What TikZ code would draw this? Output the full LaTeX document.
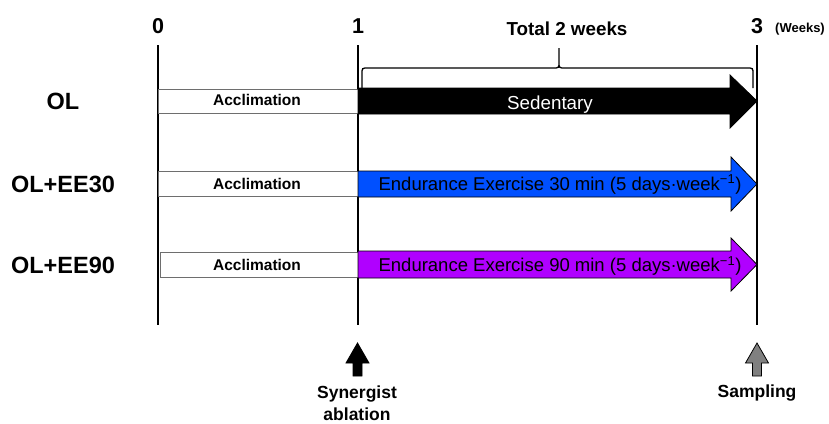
\documentclass[tikz,border=0pt]{standalone}
\usepackage{fontspec}
\setmainfont{Liberation Sans}
\definecolor{eeblue}{RGB}{0,80,255}
\definecolor{eepurple}{RGB}{176,0,255}
\definecolor{boxgray}{RGB}{110,110,110}
\begin{document}
\begin{tikzpicture}[x=1pt,y=-1pt,
  tick/.style={anchor=base,font=\fontsize{21.5}{22}\selectfont\bfseries},
  grp/.style={anchor=base,font=\fontsize{23.5}{24}\selectfont\bfseries},
  accl/.style={anchor=base,font=\fontsize{15.5}{16}\selectfont\bfseries},
  arrtxt/.style={anchor=base,font=\fontsize{18.5}{19}\selectfont},
  bot/.style={anchor=base,font=\fontsize{17.5}{18}\selectfont\bfseries,inner sep=1pt},
  vline/.style={line width=2.4pt},
  abox/.style={draw=boxgray,line width=1pt,fill=white},
  barrow/.style={draw=black,line width=0.8pt}]
\useasboundingbox (0,0) rectangle (829,423);
% vertical lines
\draw[vline] (158,45) -- (158,325);
\draw[vline] (358,45) -- (358,325);
\draw[vline] (757,45) -- (757,325);
% tick labels
\node[tick] (t0) at (158,33) {0};
\node[tick] (t1) at (358,33) {1};
\node[tick] (t3) at (757,33) {3};
\node[anchor=base,font=\fontsize{13}{14}\selectfont\bfseries] (wk) at (800,32) {(Weeks)};
\node[anchor=base,font=\fontsize{18.8}{19}\selectfont\bfseries] (tot) at (567,35) {Total 2 weeks};
% brace
\draw[line width=1.3pt] (362,88) -- (362,74) .. controls (362,68) .. (368,68) -- (553,68) .. controls (559,68) .. (559,62) -- (559,48)
  (559,62) .. controls (559,68) .. (565,68) -- (747,68) .. controls (753,68) .. (753,74) -- (753,88);
% row OL
\draw[abox] (158,89) rectangle (358,113);
\fill[barrow,fill=black] (358,88) -- (730,88) -- (730,75) -- (757,101) -- (730,128) -- (730,114) -- (358,114) -- cycle;
\node[grp] (ol) at (63,109.5) {OL};
\node[accl] (a1) at (257,105.5) {Acclimation};
\node[anchor=base,font=\fontsize{18.8}{19}\selectfont,text=white] (sed) at (550,109.5) {Sedentary};
% row EE30
\draw[abox] (158,171) rectangle (358,196);
\filldraw[barrow,fill=eeblue] (358,171) -- (731,171) -- (731,157) -- (757,184) -- (731,211) -- (731,197) -- (358,197) -- cycle;
\node[grp] (ee30) at (63,192.5) {OL+EE30};
\node[accl] (a2) at (257,189.5) {Acclimation};
\node[arrtxt] (t30) at (560,190) {Endurance Exercise 30 min (5 days·week\textsuperscript{−1})};
% row EE90
\draw[abox] (160,252) rectangle (358,277);
\filldraw[barrow,fill=eepurple] (358,251) -- (731,251) -- (731,238) -- (757,264.5) -- (731,291) -- (731,278) -- (358,278) -- cycle;
\node[grp] (ee90) at (63,273.5) {OL+EE90};
\node[accl] (a3) at (257,270) {Acclimation};
\node[arrtxt] (t90) at (560,271.5) {Endurance Exercise 90 min (5 days·week\textsuperscript{−1})};
% bottom arrows
\filldraw[barrow,fill=black] (357.5,343) -- (369,363) -- (362,363) -- (362,376) -- (353,376) -- (353,363) -- (346,363) -- cycle;
\filldraw[barrow,fill=gray] (757,343) -- (768.5,363) -- (761.5,363) -- (761.5,376) -- (752.5,376) -- (752.5,363) -- (745.5,363) -- cycle;
\node[bot] (syn) at (357,398) {Synergist};
\node[bot] (abl) at (357,420) {ablation};
\node[bot] (smp) at (757,397) {Sampling};
\end{tikzpicture}
\end{document}
